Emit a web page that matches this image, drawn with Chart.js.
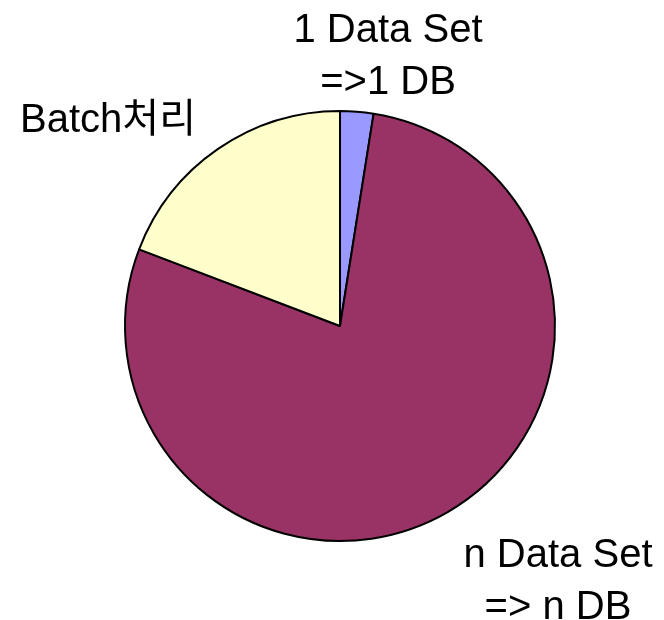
<!DOCTYPE html>
<html>
<head>
<meta charset="utf-8">
<script src="https://cdn.jsdelivr.net/npm/chart.js@4"></script>
<style>
html,body{margin:0;padding:0;background:#fff;}
#wrap{width:664px;height:620px;}
</style>
</head>
<body>
<div id="wrap"><canvas id="c" width="664" height="620"></canvas></div>
<script>
const categories = ["1 Data Set\n=>1 DB", "n Data Set\n=> n DB", "Batch처리"];
const values = [2.5, 78.3, 19.2];
const colors = ["#9999FF", "#993366", "#FFFFCC"];

// text placement (center x, first baseline y)
const labelLayout = [
  {x: 388, y: 42},
  {x: 558, y: 567},
  {x: 108, y: 132}
];

const labelPlugin = {
  id: 'sliceLabels',
  afterDraw(chart) {
    const ctx = chart.ctx;
    ctx.save();
    ctx.fillStyle = '#000';
    ctx.font = '40px "Liberation Sans", "Noto Sans CJK KR", sans-serif';
    ctx.textAlign = 'center';
    ctx.textBaseline = 'alphabetic';
    chart.data.labels.forEach((lab, i) => {
      const pos = labelLayout[i];
      lab.split('\n').forEach((line, j) => {
        ctx.fillText(line, pos.x, pos.y + j * 52);
      });
    });
    ctx.restore();
  }
};

new Chart(document.getElementById('c'), {
  type: 'pie',
  data: {
    labels: categories,
    datasets: [{
      data: values,
      backgroundColor: colors,
      borderColor: '#000',
      borderWidth: 2,
      hoverOffset: 0
    }]
  },
  options: {
    responsive: false,
    animation: false,
    layout: {padding: {left: 124, right: 108, top: 110, bottom: 78}},
    plugins: {legend: {display: false}, tooltip: {enabled: false}}
  },
  plugins: [labelPlugin]
});
</script>
</body>
</html>
